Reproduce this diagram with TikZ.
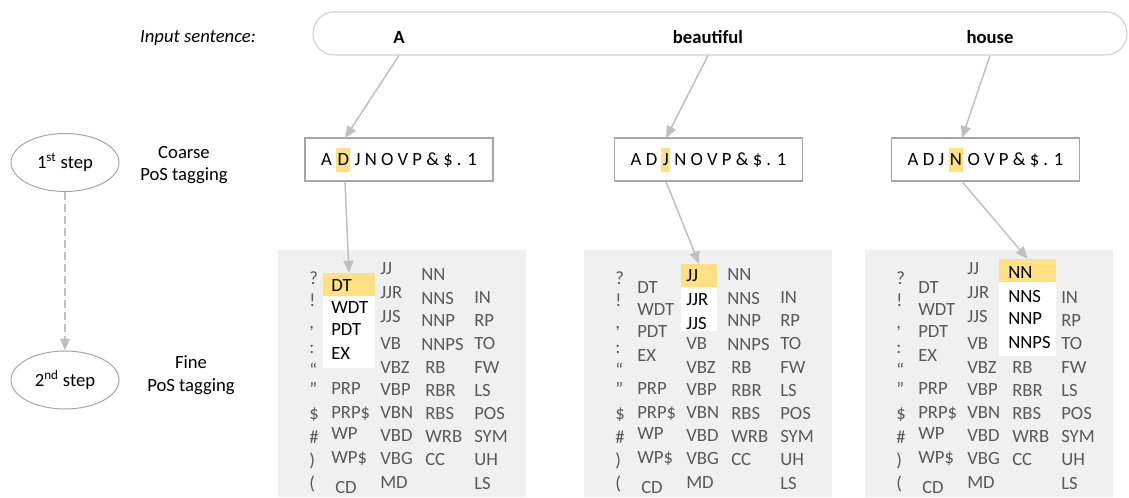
\documentclass[tikz,border=0pt]{standalone}
\usepackage{fontspec}
\setmainfont{Carlito}
\usepackage{tikz}
\usetikzlibrary{calc, arrows.meta, shapes.geometric}

\definecolor{hl}{HTML}{FFE083}
\definecolor{tagtxt}{HTML}{595959}
\definecolor{bggray}{HTML}{F0F0F0}
\definecolor{arrgray}{HTML}{BFBFBF}
\definecolor{boxline}{HTML}{A6A6A6}
\definecolor{pillline}{HTML}{D0D0D0}

% 黄色のマーカー
\newcommand{\hlc}[1]{{\setlength{\fboxsep}{1pt}\colorbox{hl}{\rule[-3.5pt]{0pt}{16pt}#1}}}

% タグの一覧 (#1 名前, #2 左端, #3 #4 #5 上段のスタイル)
\newcommand{\postags}[5]{%
  \foreach \tg/\y [count=\i] in {?/284, !/306, {,}/328, :/353, ``/376, ''/395, \$/419, \#/443, {)}/466, {(}/489}
    \node[tag] (#1p\i) at (#2+31, \y) {\tg};
  \foreach \tg/\y [count=\i] in {DT/293, WDT/315, PDT/337, EX/361}
    \node[#3] (#1d\i) at (#2+53, \y) {\tg};
  \foreach \tg/\y [count=\i] in {PRP/394, PRP\$/418, WP/439, WP\$/463}
    \node[tag] (#1r\i) at (#2+53, \y) {\tg};
  \node[tag] (#1cd) at (#2+57, 493) {CD};
  \foreach \tg/\y [count=\i] in {JJ/274, JJR/298, JJS/322}
    \node[#4] (#1j\i) at (#2+102, \y) {\tg};
  \foreach \tg/\y [count=\i] in {VB/349, VBZ/373, VBP/395, VBN/418, VBD/441, VBG/464, MD/488}
    \node[tag] (#1v\i) at (#2+102, \y) {\tg};
  \foreach \tg/\y [count=\i] in {NN/280, NNS/304, NNP/326, NNPS/350}
    \node[#5] (#1n\i) at (#2+143, \y) {\tg};
  \foreach \tg/\y [count=\i] in {RB/373, RBR/396, RBS/419, WRB/442, CC/465}
    \node[tag] (#1b\i) at (#2+147, \y) {\tg};
  \foreach \tg/\y [count=\i] in {IN/303, RP/326, TO/349, FW/373, LS/396, POS/419, SYM/442, UH/465, LS/489}
    \node[tag] (#1o\i) at (#2+196, \y) {\tg};
}

\tikzset{
  txt/.style = {font=\fontsize{14}{17}\selectfont, inner sep=0pt, align=center},
  word/.style = {txt, font=\fontsize{14}{17}\selectfont\bfseries, anchor=base},
  tag/.style = {txt, anchor=base west, text=tagtxt},
  sel/.style = {txt, anchor=base west, text=black},
  coarse/.style = {txt, draw=boxline, line width=0.8pt, minimum width=141pt, minimum height=32.25pt},
  stepell/.style = {txt, ellipse, draw=boxline, line width=0.75pt, minimum width=81pt, minimum height=43.5pt},
  bgbox/.style = {fill=bggray, anchor=north west, minimum width=186pt, minimum height=185.25pt, inner sep=0pt},
  selbox/.style = {fill=white, inner sep=0pt},
  arr/.style = {draw=arrgray, line width=1.1pt, -{Stealth[length=9pt, width=7.5pt, inset=0pt, fill=arrgray]}},
}

\begin{document}
\begin{tikzpicture}[x=0.75pt, y=-0.75pt]
  \useasboundingbox (0,0) rectangle (1129,497);

  % 入力文
  \node[txt, font=\fontsize{14}{17}\selectfont\itshape, anchor=base] (inp) at (198,42) {Input sentence:};
  \node[txt, draw=pillline, line width=0.8pt, rounded corners=16pt,
        minimum width=610.5pt, minimum height=32.25pt] (pill) at (720,33.5) {};
  \node[word] (wA) at (399,43) {A};
  \node[word] (wB) at (708,43) {beautiful};
  \node[word] (wC) at (990,43) {house};

  % ステップ
  \node[stepell] (e1) at (65,162.5) {1\textsuperscript{st} step};
  \node[stepell] (e2) at (65,380) {2\textsuperscript{nd} step};
  \draw[arr, line width=0.9pt, dash pattern=on 6pt off 3pt] (e1) -- (e2);

  \node[txt] (lc) at (184,165) {Coarse\\PoS tagging};
  \node[txt] (lf) at (191,375) {Fine\\PoS tagging};

  % 粗いタグ
  \node[coarse] (c1) at (399,159.5) {A \hlc{D} J N O V P \& \$ . 1};
  \node[coarse] (c2) at (708.5,159.5) {A D \hlc{J} N O V P \& \$ . 1};
  \node[coarse] (c3) at (985.5,159.5) {A D J \hlc{N} O V P \& \$ . 1};

  % 細かいタグ
  \node[bgbox] (g1) at (278,250) {};
  \node[bgbox] (g2) at (584,250) {};
  \node[bgbox] (g3) at (865,250) {};

  \node[selbox, minimum width=39pt, minimum height=71.25pt] (s1) at (349,320.5) {};
  \fill[hl] (s1.north west) rectangle ([yshift=-17.25pt]s1.north east);
  \node[selbox, minimum width=27pt, minimum height=50.25pt] (s2) at (699,297.5) {};
  \fill[hl] (s2.north west) rectangle ([yshift=-17.25pt]s2.north east);
  \node[selbox, minimum width=42.75pt, minimum height=72.75pt] (s3) at (1027.5,307.5) {};
  \fill[hl] (s3.north west) rectangle ([yshift=-17.25pt]s3.north east);

  \postags{a}{278}{sel, yshift=1.5pt}{tag}{tag}
  \postags{b}{584}{tag}{sel, yshift=-5.25pt}{tag}
  \postags{c}{865}{tag}{tag}{sel, yshift=1.5pt}

  % 矢印
  \coordinate (k1) at (345,138);
  \coordinate (k2) at (666,138);
  \coordinate (k3) at (962,138);
  \draw[arr] (wA |- pill.south) -- (k1);
  \draw[arr] (wB |- pill.south) -- (k2);
  \draw[arr] (wC |- pill.south) -- (k3);
  \draw[arr] (c1.south -| k1) -- (s1.north);
  \draw[arr] (c2.south -| k2) -- (s2.north);
  \draw[arr] (c3.south -| k3) -- (s3.north);

\end{tikzpicture}
\end{document}
